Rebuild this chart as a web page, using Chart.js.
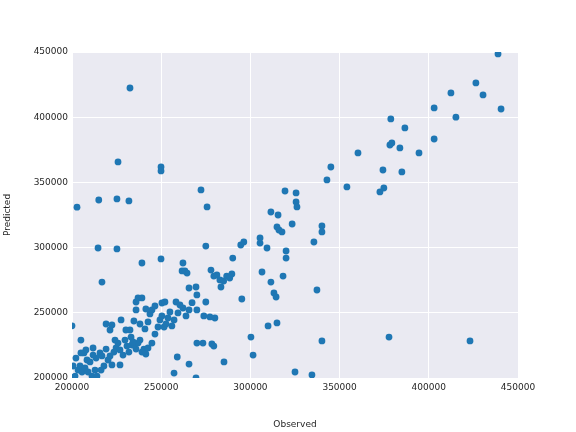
<!DOCTYPE html>
<html>
<head>
<meta charset="utf-8">
<script src="https://cdn.jsdelivr.net/npm/chart.js@4"></script>
<style>
    html, body { margin: 0; padding: 0; background: #fff; }
    #wrap { width: 576px; height: 432px; }
</style>
</head>
<body>
<div id="wrap"><canvas id="scatter_graph"></canvas></div>
<script>
// Data (thousands)
const observed = [
    200, 202.8, 215, 214.6, 216.8, 232.5, 225.8, 225.2, 231.9, 225.2, 249.9, 249.9, 249.9, 239.2,
    272.3, 275.7, 275, 262.2, 263.3, 264.5, 261.7, 265.6, 269.5, 270, 283.5, 281.2, 282.9, 277.9,
    279.5, 285, 286.7, 288.4, 289.6, 290.1, 294.6, 296.3, 295.2, 275, 273.9, 277.3, 280.1, 270,
    267.3, 265.6, 273.4, 278.4, 279.5, 270, 265.6, 259, 257.2, 269.5, 285.2, 300.3, 301.5, 305.4,
    305.4, 306.5, 309.3, 311.5, 311.5, 315.5, 314.9, 316, 317.7, 319.4, 318.3, 320, 320, 323.4,
    325.6, 325.6, 326.1, 313.2, 314.4, 309.9, 314.9, 325, 334.5, 337.3, 335.6, 340.1, 340.1, 340.1,
    342.9, 345.1, 354.1, 360.3, 374.3, 372.6, 374.8, 378.2, 378.7, 379.3, 383.8, 384.9, 386.6, 377.7,
    394.5, 403, 403, 412.4, 415.2, 426.4, 430.4, 438.8, 440.5, 423.1,
    201.7, 203.4, 204.5, 205.6, 207.3, 208.4, 210.1, 211.2, 212.9, 213.5, 215.7, 216.8, 219.1, 220.2,
    221.3, 222.4, 223.5, 224.7, 225.8, 226.9, 226.9, 228.6, 229.7, 230.8, 231.9, 233.1, 233.6, 234.7,
    235.9, 237, 238.1, 238.1, 239.2, 240.3, 240.9, 242.6, 243.7, 244.8, 246.5, 248.2, 249.3, 250.4,
    251.6, 252.7, 253.8, 254.9, 256, 257.2, 258.3, 259.4, 260.5, 262.2, 263.9, 235.9, 234.7, 237,
    241.4, 202.2, 200.6, 209, 214, 217.9, 205, 206.7, 211.8, 207.8, 219.1, 216.3, 221.3, 222.4,
    227.5, 224.1, 242.6, 244.8, 232.5, 235.9, 252.1, 250.4, 239.2, 241.4, 246.5, 205, 211.8, 230.2, 234.2
];
const predicted = [
    240, 331, 336.5, 299.7, 273.6, 422.4, 365.7, 337.3, 335.8, 299, 361.8, 358.8, 291.3, 288.2,
    344.2, 331.2, 301.2, 288.2, 282.1, 280.5, 282.1, 269, 269.8, 263.7, 269.8, 279, 275.2, 282.8,
    278.2, 274.4, 278.2, 276.7, 279.8, 292, 302, 304.3, 260.6, 258.3, 247.6, 246.8, 246, 252.2,
    257.8, 252.2, 226.8, 226.1, 224.5, 226.8, 210.7, 216.1, 203.8, 200, 212.3, 231.4, 217.6, 303.5,
    307.4, 281.3, 299.7, 273.6, 327.3, 325, 315.8, 313.5, 312, 343.4, 278.2, 297.4, 292, 318.1,
    341.9, 335, 331.2, 265.2, 262.1, 239.9, 242.2, 204.6, 202.3, 267.5, 304.3, 316.6, 312, 228.4,
    351.9, 361.8, 346.5, 372.6, 359.5, 342.7, 345.7, 378.7, 398.7, 380.2, 376.4, 358, 391.8, 231.4,
    372.6, 407.1, 383.3, 418.6, 400, 426.3, 417.1, 448.5, 406.3, 228.4,
    201.5, 206.1, 209.2, 204.6, 207.7, 213.8, 212.3, 201.5, 206.1, 215.3, 219.2, 216.9, 222.2, 213.8,
    216.9, 210, 219.9, 223, 226.8, 221.5, 210, 217.6, 229.1, 224.5, 219.9, 231.4, 225.3, 243.7,
    258.3, 261.4, 229.1, 241.4, 219.9, 222.2, 237.6, 243, 249.1, 252.2, 233.7, 239.1, 244.5, 247.6,
    239.1, 241.4, 246, 250.6, 239.9, 244.5, 258.3, 249.9, 256, 253.7, 247.6, 222.2, 225.3, 226.8,
    218.4, 215.3, 209.2, 204.6, 201.5, 209.2, 229.1, 219.2, 217.6, 221.5, 241.4, 206.1, 236.8, 240.7,
    244.5, 229.1, 223, 226.8, 236.8, 252.2, 258.3, 257.5, 261.4, 252.9, 255.2, 219.2, 223, 236.8, 227.6
];
const tickValues = [200000, 250000, 300000, 350000, 400000, 450000];

const points = observed.map((x, i) => ({x: x * 1000, y: predicted[i] * 1000}));

// Plot background
const areaBackground = {
    id: 'areaBackground'
    ,beforeDraw: (chart) =>
    {
        const {ctx, chartArea: a} = chart;
        ctx.save();
        ctx.fillStyle = '#EAEAF2';
        ctx.fillRect(a.left, a.top, a.right - a.left, a.bottom - a.top);
        ctx.restore();
    }
};

const axis = (title, size, isX) => ({
    type: 'linear'
    ,min: 200000
    ,max: 450000
    ,afterBuildTicks: (s) => { s.ticks = tickValues.map(v => ({value: v})); }
    ,afterFit: (s) => { if(isX) s.height = size; else s.width = size; }
    ,grid: {color: '#ffffff', lineWidth: 1, drawTicks: false}
    ,border: {display: false}
    ,ticks: {color: '#262626', font: {family: 'DejaVu Sans', size: 9}, padding: 4, callback: (v) => String(v)}
    ,title: {display: true, text: title, color: '#262626', font: {family: 'DejaVu Sans', size: 9}, padding: 2}
});

Chart.defaults.animation = false;
new Chart(document.getElementById('scatter_graph'),
{
    type: 'scatter'
    ,data: {
        datasets: [{
            data: points
            ,backgroundColor: '#1f77b4'
            ,borderWidth: 0
            ,pointRadius: 3.4
        }]
    }
    ,options: {
        responsive: true
        ,maintainAspectRatio: false
        ,layout: {padding: {top: 52, right: 58, left: 0, bottom: 0}}
        ,plugins: {legend: {display: false}, tooltip: {enabled: false}}
        ,scales: {
            x: axis('Observed', 54, true)
            ,y: axis('Predicted', 72, false)
        }
    }
    ,plugins: [areaBackground]
});
</script>
</body>
</html>
